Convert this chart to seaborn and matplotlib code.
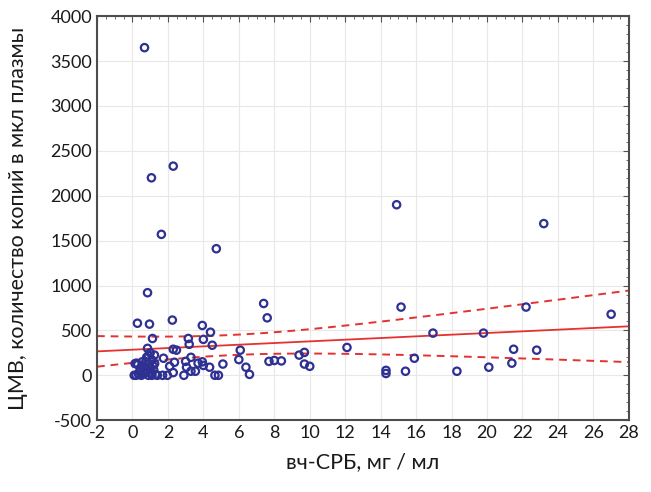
import numpy as np
import pandas as pd
import seaborn as sns
import matplotlib.pyplot as plt
from matplotlib.ticker import MultipleLocator

# hs-CRP (mg/ml) vs CMV copies per ul plasma
crp = [0.68, 1.07, 2.3, 1.63, 4.73, 0.85, 14.9, 23.2,
       15.15, 22.2, 27.0, 16.95, 19.8, 12.1, 21.5, 22.8, 15.9, 21.4,
       20.1, 15.4, 18.3, 14.3, 14.3, 9.7, 9.4, 9.7, 10.0,
       7.4, 7.6, 0.28, 0.96, 2.25, 3.94, 4.4, 1.13, 3.15, 4.0, 3.2,
       4.5, 0.85, 2.3, 2.48, 6.08, 7.7, 8.0, 8.4, 6.0, 6.4, 6.6, 5.1,
       4.65, 4.85, 4.35, 3.94, 3.7, 3.3, 3.0, 3.05, 2.9, 3.3, 3.55,
       2.37, 2.1, 2.3, 1.75, 1.24, 1.97, 1.7, 1.4, 4.0, 0.23,
       0.1, 0.2, 0.35, 0.3, 0.5, 0.6, 0.7, 0.75, 0.8, 0.85, 0.9, 0.95,
       1.0, 1.05, 1.1, 1.15, 1.2, 0.65, 0.45, 1.3, 0.55, 0.9, 1.0,
       0.75, 1.25, 0.15, 0.4, 1.1]
cmv = [3650, 2200, 2330, 1570, 1410, 920, 1900, 1690,
       760, 760, 680, 470, 470, 310, 290, 280, 190, 135,
       90, 45, 45, 55, 20, 255, 225, 125, 100,
       800, 640, 580, 570, 615, 555, 480, 410, 410, 400, 345,
       335, 300, 290, 280, 280, 155, 165, 160, 175, 90, 10, 125,
       0, 0, 90, 150, 135, 200, 155, 90, 0, 45, 45,
       145, 100, 30, 190, 225, 0, 0, 0, 110, 135,
       0, 0, 10, 120, 0, 50, 100, 150, 200, 50, 0, 130,
       80, 30, 170, 110, 60, 20, 80, 10, 150, 220, 250,
       30, 130, 130, 40, 0]

df = pd.DataFrame({'crp': crp, 'cmv': cmv})

# linear fit with 95% confidence band
x = df['crp'].to_numpy()
y = df['cmv'].to_numpy()
n = len(x)
slope, intercept = np.polyfit(x, y, 1)
resid = y - (intercept + slope * x)
s = np.sqrt(np.sum(resid ** 2) / (n - 2))
sxx = np.sum((x - x.mean()) ** 2)
xs = np.linspace(-2, 28, 200)
fit = intercept + slope * xs
half = 1.984 * s * np.sqrt(1 / n + (xs - x.mean()) ** 2 / sxx)

sns.set_style('white')
plt.rcParams['font.family'] = ['Lato', 'DejaVu Sans']
plt.rcParams['axes.unicode_minus'] = False

fig = plt.figure(figsize=(6.51, 4.92), dpi=100)
ax = fig.add_axes([0.149, 0.146, 0.817, 0.821])

ax.grid(True, color='#e8e8e8', linewidth=0.8)
ax.set_axisbelow(True)

red = '#e5312f'
ax.plot(xs, fit, color=red, linewidth=1.3, zorder=2)
ax.plot(xs, fit + half, color=red, linewidth=1.4, linestyle=(0, (4, 3)), zorder=2)
ax.plot(xs, fit - half, color=red, linewidth=1.4, linestyle=(0, (4, 3)), zorder=2)

sns.scatterplot(data=df, x='crp', y='cmv', ax=ax, marker='o', s=28,
                facecolor='none', edgecolor='#2e3192', linewidth=1.6, zorder=3)

ax.set_xlim(-2, 28)
ax.set_ylim(-500, 4000)
ax.xaxis.set_major_locator(MultipleLocator(2))
ax.xaxis.set_minor_locator(MultipleLocator(0.5))
ax.yaxis.set_major_locator(MultipleLocator(500))
ax.yaxis.set_minor_locator(MultipleLocator(100))
ax.tick_params(which='both', direction='in', top=True, right=True,
               color='#555555')
ax.tick_params(which='major', length=4, labelsize=13, labelcolor='#1a1a1a')
ax.tick_params(which='minor', length=2)
for sp in ax.spines.values():
    sp.set_color('#4d4d4d')
    sp.set_linewidth(1.5)

ax.set_xlabel('вч-СРБ, мг / мл', fontsize=15.5, color='#1a1a1a', labelpad=8)
ax.set_ylabel('ЦМВ, количество копий в мкл плазмы', fontsize=15.5,
              color='#1a1a1a', labelpad=16)

fig.savefig('out.png', dpi=100)
